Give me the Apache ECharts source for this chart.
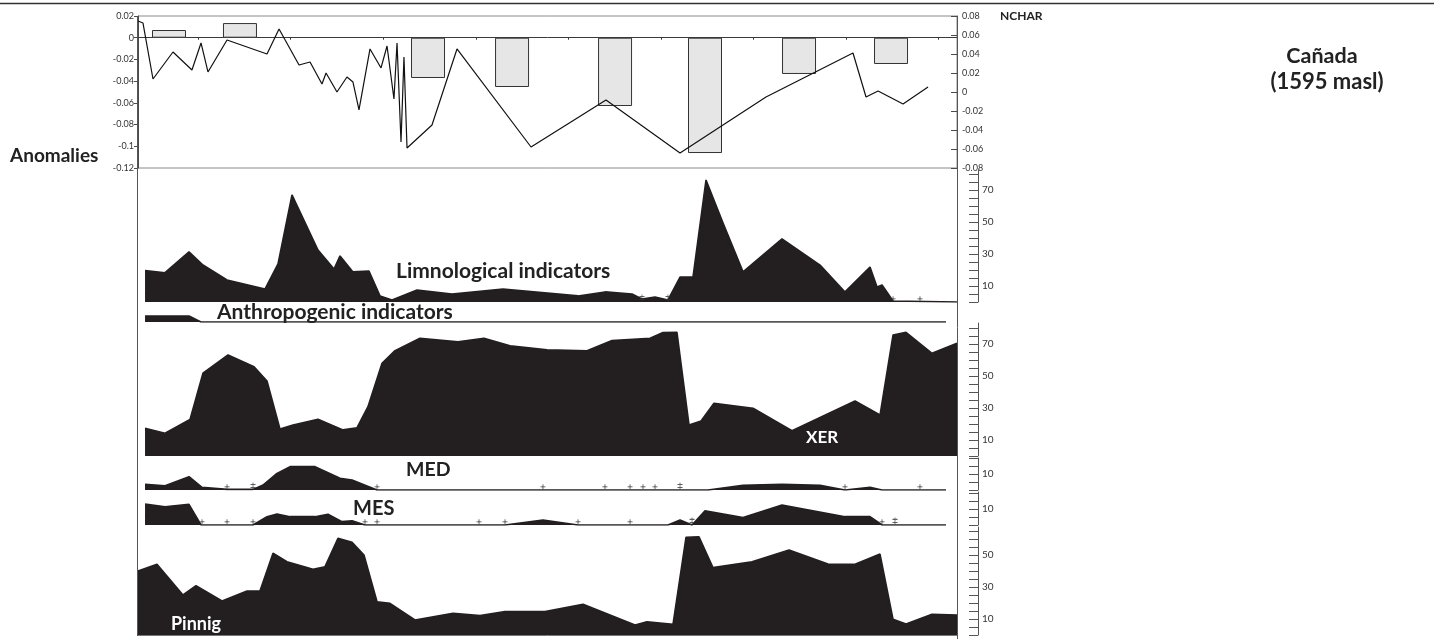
<!DOCTYPE html>
<html><head><meta charset="utf-8">
<script src="https://cdn.jsdelivr.net/npm/echarts@6/dist/echarts.min.js"></script>
<style>html,body{margin:0;padding:0;background:#fff}#c{width:1434px;height:639px}</style>
</head><body><div id="c"></div><script>
// ---------- DATA ----------
// x positions in arbitrary time units (0 .. 88.5)
const topTicksX = [6.5, 16.5, 26.5, 36.5, 46.5, 56.5, 66.5, 76.5, 86.5];

const anomalyX = [3.35, 11.02, 31.34, 40.42, 51.55, 61.27, 71.43, 81.37];
const anomalyValues = [0.0071, 0.0135, -0.0371, -0.0454, -0.0629, -0.1062, -0.0334, -0.0242];

const ncharX = [0, 0.54, 1.62, 3.78, 5.83, 6.81, 7.56, 9.62, 13.94, 15.24, 17.40, 18.59, 19.88, 20.32, 21.50, 22.58, 23.23, 23.88, 25.07, 26.26, 26.91, 27.66, 27.99, 28.42, 28.74, 29.07, 31.77, 34.47, 42.47, 50.57, 58.57, 67.86, 77.26, 78.67, 79.97, 82.67, 85.37];
const ncharValues = [0.0747, 0.0726, 0.0137, 0.0421, 0.0232, 0.0516, 0.0211, 0.0547, 0.0400, 0.0663, 0.0284, 0.0316, 0.0084, 0.0200, 0.0, 0.0158, 0.0105, -0.0189, 0.0453, 0.0253, 0.0484, -0.0074, 0.0516, -0.0526, 0.0368, -0.0589, -0.0347, 0.0453, -0.0579, -0.0084, -0.0642, -0.0053, 0.0411, -0.0053, 0.0011, -0.0126, 0.0053];

const limnoX = [0.76, 2.92, 5.51, 7.02, 9.62, 13.72, 15.13, 16.64, 19.45, 21.18, 21.83, 23.23, 24.96, 26.15, 27.45, 30.15, 33.93, 39.44, 47.55, 50.46, 53.38, 54.46, 55.87, 57.27, 58.57, 59.97, 61.38, 63.22, 65.38, 69.59, 73.70, 76.40, 79.10, 79.86, 80.40, 81.59, 88.5];
const limnoValues = [19.6, 18.3, 31.3, 23.1, 13.8, 8.1, 23.8, 66.9, 32.5, 20.6, 28.8, 18.8, 19.4, 3.8, 1.3, 7.5, 5.0, 8.1, 3.8, 6.3, 5.0, 1.9, 3.1, 1.3, 15.6, 15.6, 76.3, 49.4, 18.8, 39.4, 23.1, 6.3, 21.9, 9.4, 10.6, 0.6, 0];
const limnoPlusX = [81.59, 84.50];
const limnoDoubleX = [54.46, 57.27];

const anthroX = [0.76, 5.51, 6.81, 87.31];
const anthroValues = [3.75, 3.75, 0, 0];

const xerX = [0.76, 2.92, 5.62, 7.02, 9.73, 12.54, 13.94, 15.34, 16.75, 19.45, 22.15, 23.67, 24.85, 26.37, 27.77, 30.47, 34.58, 37.39, 40.20, 44.20, 48.52, 51.22, 55.33, 56.73, 58.24, 59.54, 60.84, 62.24, 66.46, 70.67, 77.48, 80.18, 81.59, 82.99, 85.80, 88.50];
const xerValues = [17.3, 14.2, 22.9, 51.7, 63.1, 55.8, 46.9, 16.9, 19.4, 22.9, 16.3, 17.7, 30.8, 57.9, 65.8, 73.6, 71.4, 73.6, 68.9, 66.3, 65.8, 72.1, 73.6, 77.1, 77.3, 19.4, 21.9, 32.9, 29.8, 15.8, 34.4, 25.6, 75.6, 77.3, 64.2, 70.4];

const medX = [0.76, 2.92, 5.51, 6.92, 9.62, 12.43, 13.51, 15.02, 16.43, 19.13, 21.83, 23.13, 25.83, 61.59, 65.38, 69.59, 73.70, 76.40, 79.10, 80.40, 87.31];
const medValues = [3.6, 2.7, 8.3, 1.7, 0.4, 0.4, 3.1, 10.4, 14.6, 14.6, 7.3, 6.3, 0, 0, 2.9, 3.6, 2.9, 0, 1.7, 0, 0];
const medPlusX = [9.62, 25.83, 43.76, 50.46, 53.17, 54.57, 55.87, 76.40, 84.50];
const medDoubleX = [12.43, 58.57];

const mesX = [0.76, 2.92, 5.51, 6.81, 12.43, 13.94, 15.02, 16.43, 19.13, 20.53, 22.04, 23.13, 24.53, 39.66, 43.76, 47.55, 57.27, 58.57, 59.87, 61.27, 65.38, 69.59, 76.40, 79.10, 80.40, 87.31];
const mesValues = [13.1, 11.4, 12.9, 0, 0, 5.2, 6.9, 5.2, 5.2, 6.7, 2.1, 2.7, 0, 0, 3.1, 0, 0, 3.1, 0, 8.8, 4.6, 12.5, 5.2, 5.2, 0, 0];
const mesPlusX = [6.92, 9.62, 12.43, 24.53, 25.83, 36.85, 39.66, 47.55, 53.17, 80.40];
const mesDoubleX = [59.87, 81.80];

const pinnigX = [0, 2.05, 4.86, 6.27, 9.08, 11.78, 13.18, 14.59, 16.10, 18.91, 20.21, 21.61, 23.13, 24.42, 25.83, 27.23, 29.93, 34.04, 36.96, 39.66, 43.98, 48.09, 53.71, 55.00, 57.81, 59.22, 60.62, 62.13, 66.35, 70.35, 74.56, 77.48, 80.18, 81.59, 82.99, 85.80, 88.50];
const pinnigValues = [40.0, 44.2, 25.0, 30.8, 21.3, 27.5, 27.5, 51.1, 45.8, 41.1, 42.7, 60.4, 57.9, 50.0, 20.8, 19.8, 9.4, 13.6, 12.1, 14.6, 14.6, 19.2, 6.3, 8.3, 6.7, 61.1, 61.4, 42.1, 45.8, 53.1, 44.4, 44.2, 50.6, 9.8, 6.9, 12.9, 12.5];

const scaleTicks = [0, 5, 10, 15, 20, 25, 30, 35, 40, 45, 50, 55, 60, 65, 70, 75, 80];
const scaleLabels4 = [10, 30, 50, 70];
const scaleLabels3 = [10, 30, 50];
const scaleLabels1 = [10];

// ---------- LAYOUT / STYLE ----------
const FONT = 'Lato';
const INK = '#231f20';
const AX = '#4a4a4a';
const X_MIN = 0, X_MAX = 88.5;
const zip = (xs, ys) => xs.map((x, i) => [x, ys[i]]);
const marks = (xs, v) => xs.map(x => [x, v]);

const panels = [
  { top: 170, height: 132, max: 82.5, labels: scaleLabels4, x: limnoX, y: limnoValues, plus: limnoPlusX, dbl: limnoDoubleX },
  { top: 304, height: 18, max: 11.25, labels: null, x: anthroX, y: anthroValues },
  { top: 323, height: 133, max: 83.1, labels: scaleLabels4, x: xerX, y: xerValues },
  { top: 458, height: 32, max: 20, labels: scaleLabels1, x: medX, y: medValues, plus: medPlusX, dbl: medDoubleX },
  { top: 492, height: 33, max: 20.6, labels: scaleLabels1, x: mesX, y: mesValues, plus: mesPlusX, dbl: mesDoubleX },
  { top: 527, height: 108, max: 67.5, labels: scaleLabels3, x: pinnigX, y: pinnigValues }
];

const grids = [{ left: 138, right: 477, top: 16, height: 152, show: true, borderColor: '#8a8a8a', borderWidth: 1 }];
const xAxes = [{
  type: 'value', gridIndex: 0, min: X_MIN, max: X_MAX,
  axisLine: { show: true, onZero: true, onZeroAxisIndex: 0, lineStyle: { color: '#3a3a3a', width: 1 } },
  axisTick: { show: true, customValues: topTicksX, length: 2, lineStyle: { color: '#3a3a3a' } },
  axisLabel: { show: false }, splitLine: { show: false }
}];
const yAxes = [
  {
    type: 'value', gridIndex: 0, position: 'left', min: -0.12, max: 0.02, interval: 0.02,
    axisLine: { show: true, onZero: false, lineStyle: { color: AX } },
    axisTick: { show: true, length: 4, lineStyle: { color: AX } },
    axisLabel: { fontFamily: FONT, fontSize: 9, color: '#333', margin: 4,
      formatter: v => String(+v.toFixed(2)) },
    splitLine: { show: false }
  },
  {
    type: 'value', gridIndex: 0, position: 'right', min: -0.08, max: 0.08, interval: 0.02,
    axisLine: { show: true, onZero: false, lineStyle: { color: AX } },
    axisTick: { show: true, inside: true, length: 6, lineStyle: { color: AX } },
    axisLabel: { fontFamily: FONT, fontSize: 9, color: '#333', margin: 5,
      formatter: v => String(+v.toFixed(2)) },
    splitLine: { show: false }
  }
];

const series = [
  { type: 'bar', xAxisIndex: 0, yAxisIndex: 0, data: zip(anomalyX, anomalyValues), barWidth: 34,
    itemStyle: { color: '#e6e6e7', borderColor: '#333', borderWidth: 1 }, z: 2, silent: true },
  { type: 'line', xAxisIndex: 0, yAxisIndex: 1, data: zip(ncharX, ncharValues), symbol: 'none',
    lineStyle: { color: '#111', width: 1.2 }, z: 3, silent: true }
];

const plusPath = 'path://M0,5L10,5M5,0L5,10';
const dblPath = 'path://M0,3L10,3M0,8L10,8M5,0L5,11';

panels.forEach((p, i) => {
  const gi = i + 1, yi = i + 2;
  grids.push({ left: 138, right: 477, top: p.top, height: p.height });
  xAxes.push({ type: 'value', gridIndex: gi, min: X_MIN, max: X_MAX, show: false });
  yAxes.push({
    type: 'value', gridIndex: gi, position: 'right', offset: 21, min: 0, max: p.max, interval: 10,
    show: !!p.labels,
    axisLine: { show: true, onZero: false, lineStyle: { color: '#555' } },
    axisTick: { show: true, inside: true, length: 9, customValues: scaleTicks.filter(v => v <= p.max), lineStyle: { color: '#555' } },
    axisLabel: { fontFamily: FONT, fontSize: 10, color: '#333', margin: 4, customValues: p.labels || [] },
    splitLine: { show: false }
  });
  series.push({
    type: 'line', xAxisIndex: gi, yAxisIndex: yi, data: zip(p.x, p.y), symbol: 'none',
    lineStyle: { color: INK, width: 1.6 }, areaStyle: { color: INK, opacity: 1 }, z: 2, silent: true
  });
  if (p.plus) series.push({
    type: 'scatter', xAxisIndex: gi, yAxisIndex: yi, data: marks(p.plus, 2), symbol: plusPath, symbolSize: [5, 5],
    itemStyle: { color: 'none', borderColor: '#333', borderWidth: 0.9 }, z: 4, silent: true
  });
  if (p.dbl) series.push({
    type: 'scatter', xAxisIndex: gi, yAxisIndex: yi, data: marks(p.dbl, 2.5), symbol: dblPath, symbolSize: [5, 7],
    itemStyle: { color: 'none', borderColor: '#333', borderWidth: 0.9 }, z: 4, silent: true
  });
});

const txt = (text, x, y, size, fill, align) => ({
  type: 'text', x, y, silent: true, z: 100,
  style: { text, fill: fill || '#222', font: 'bold ' + size + 'px ' + FONT, align: align || 'left', verticalAlign: 'middle' }
});
const ln = (x1, y1, x2, y2, stroke, w) => ({
  type: 'line', silent: true, z: 50, shape: { x1, y1, x2, y2 }, style: { stroke, lineWidth: w || 1 }
});

const graphic = [
  ln(0, 3.5, 1434, 3.5, '#333', 1.5),
  ln(137.5, 16, 137.5, 636, '#555', 1),
  ln(957.5, 16, 957.5, 639, '#555', 1),
  ln(138, 635.5, 957, 635.5, '#777', 1),
  txt('Anomalies', 10, 156, 19),
  txt('NCHAR', 1000, 16, 12),
  txt('Cañada', 1322, 56, 21.5, '#222', 'center'),
  txt('(1595 masl)', 1327, 82, 22, '#222', 'center'),
  txt('Limnological indicators', 396, 271, 21),
  txt('Anthropogenic indicators', 217, 312, 21),
  txt('XER', 806, 438, 17, '#fff'),
  txt('MED', 406, 470, 19.5),
  txt('MES', 353, 509, 20),
  txt('Pinnig', 171, 624, 18, '#fff')
];

const chart = echarts.init(document.getElementById('c'), null, { renderer: 'canvas' });
chart.setOption({
  animation: false,
  backgroundColor: '#fff',
  grid: grids, xAxis: xAxes, yAxis: yAxes, series, graphic
});
</script></body></html>
